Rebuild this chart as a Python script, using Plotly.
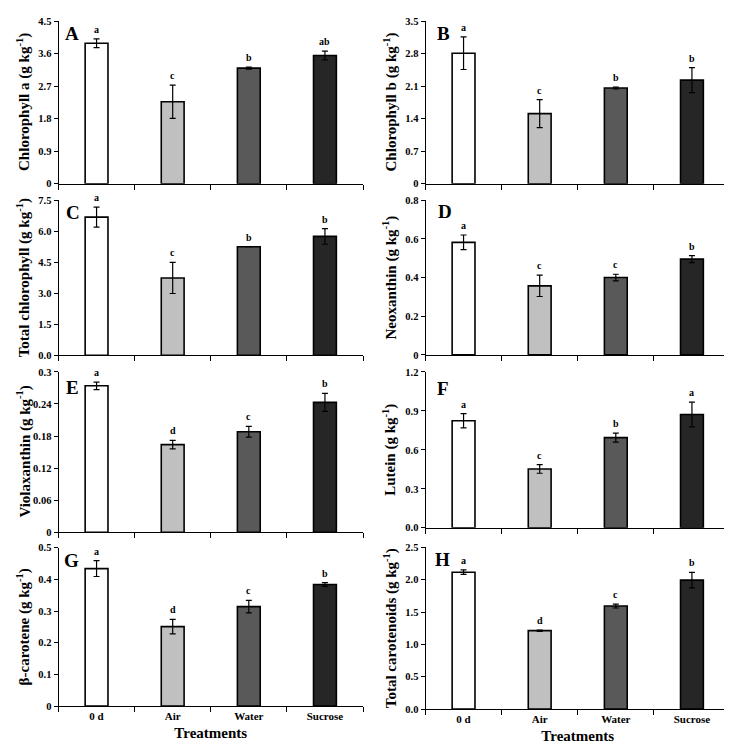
import plotly.graph_objects as go

W, H = 732, 745

categories = ["0 d", "Air", "Water", "Sucrose"]
bar_colors = ["#ffffff", "#c0c0c0", "#595959", "#262626"]

chl_a = [3.89, 2.27, 3.20, 3.55]
chl_a_err = [0.12, 0.46, 0.03, 0.12]
chl_a_sig = ["a", "c", "b", "ab"]
chl_a_ticks = [0, 0.9, 1.8, 2.7, 3.6, 4.5]
chl_a_ticktext = ["0", "0.9", "1.8", "2.7", "3.6", "4.5"]

chl_b = [2.81, 1.51, 2.06, 2.23]
chl_b_err = [0.35, 0.30, 0.02, 0.27]
chl_b_sig = ["a", "c", "b", "b"]
chl_b_ticks = [0, 0.7, 1.4, 2.1, 2.8, 3.5]
chl_b_ticktext = ["0", "0.7", "1.4", "2.1", "2.8", "3.5"]

tot_chl = [6.68, 3.74, 5.25, 5.75]
tot_chl_err = [0.48, 0.75, 0.0, 0.38]
tot_chl_sig = ["a", "c", "b", "b"]
tot_chl_ticks = [0, 1.5, 3.0, 4.5, 6.0, 7.5]
tot_chl_ticktext = ["0.0", "1.5", "3.0", "4.5", "6.0", "7.5"]

neox = [0.582, 0.357, 0.400, 0.495]
neox_err = [0.038, 0.055, 0.017, 0.018]
neox_sig = ["a", "c", "c", "b"]
neox_ticks = [0, 0.2, 0.4, 0.6, 0.8]
neox_ticktext = ["0", "0.2", "0.4", "0.6", "0.8"]

viol = [0.274, 0.164, 0.188, 0.243]
viol_err = [0.007, 0.008, 0.010, 0.017]
viol_sig = ["a", "d", "c", "b"]
viol_ticks = [0, 0.06, 0.12, 0.18, 0.24, 0.3]
viol_ticktext = ["0", "0.06", "0.12", "0.18", "0.24", "0.3"]

lutein = [0.824, 0.453, 0.694, 0.872]
lutein_err = [0.055, 0.033, 0.035, 0.095]
lutein_sig = ["a", "c", "b", "a"]
lutein_ticks = [0, 0.3, 0.6, 0.9, 1.2]
lutein_ticktext = ["0.0", "0.3", "0.6", "0.9", "1.2"]

bcar = [0.434, 0.251, 0.314, 0.384]
bcar_err = [0.025, 0.023, 0.020, 0.006]
bcar_sig = ["a", "d", "c", "b"]
bcar_ticks = [0, 0.1, 0.2, 0.3, 0.4, 0.5]
bcar_ticktext = ["0", "0.1", "0.2", "0.3", "0.4", "0.5"]

tot_car = [2.115, 1.212, 1.592, 1.993]
tot_car_err = [0.035, 0.010, 0.030, 0.120]
tot_car_sig = ["a", "d", "c", "b"]
tot_car_ticks = [0, 0.5, 1.0, 1.5, 2.0, 2.5]
tot_car_ticktext = ["0.0", "0.5", "1.0", "1.5", "2.0", "2.5"]

FONT = "Liberation Serif, Times New Roman, serif"

# panel: letter, title, values, err, sig, ticks, ticktext, x-domain px, y-domain px, letter pos px
panels = [
    ("A", "Chlorophyll a (g kg<sup>-1</sup>)", chl_a, chl_a_err, chl_a_sig, chl_a_ticks, chl_a_ticktext,
     (50.5, 355), (8.3, 173.3), (64, 21)),
    ("B", "Chlorophyll b (g kg<sup>-1</sup>)", chl_b, chl_b_err, chl_b_sig, chl_b_ticks, chl_b_ticktext,
     (417.5, 722), (8.3, 173.3), (435, 21)),
    ("C", "Total chlorophyll (g kg<sup>-1</sup>)", tot_chl, tot_chl_err, tot_chl_sig, tot_chl_ticks, tot_chl_ticktext,
     (50.5, 355), (190, 347.5), (65, 202)),
    ("D", "Neoxanthin (g kg<sup>-1</sup>)", neox, neox_err, neox_sig, neox_ticks, neox_ticktext,
     (417.5, 722), (190, 347), (437, 201)),
    ("E", "Violaxanthin (g kg<sup>-1</sup>)", viol, viol_err, viol_sig, viol_ticks, viol_ticktext,
     (50.5, 355), (364.3, 527), (64, 380)),
    ("F", "Lutein (g kg<sup>-1</sup>)", lutein, lutein_err, lutein_sig, lutein_ticks, lutein_ticktext,
     (417.5, 722), (364.3, 522.5), (435, 381)),
    ("G", "β-carotene (g kg<sup>-1</sup>)", bcar, bcar_err, bcar_sig, bcar_ticks, bcar_ticktext,
     (50.5, 355), (542.7, 703.5), (63, 556)),
    ("H", "Total carotenoids (g kg<sup>-1</sup>)", tot_car, tot_car_err, tot_car_sig, tot_car_ticks, tot_car_ticktext,
     (417.5, 722), (542.3, 706.5), (434, 555)),
]

fig = go.Figure()
layout = dict(
    width=W, height=H,
    margin=dict(l=0, r=0, t=0, b=0),
    paper_bgcolor="white", plot_bgcolor="white",
    showlegend=False,
    font=dict(family=FONT, color="black"),
    bargap=0.7,
)
annotations = []

for i, (letter, title, vals, errs, sigs, ticks, ticktext, xd, yd, lp) in enumerate(panels):
    n = i + 1
    xa = "x" if n == 1 else f"x{n}"
    ya = "y" if n == 1 else f"y{n}"
    xkey = "xaxis" if n == 1 else f"xaxis{n}"
    ykey = "yaxis" if n == 1 else f"yaxis{n}"
    fig.add_trace(go.Bar(
        x=categories, y=vals,
        marker=dict(color=bar_colors, line=dict(color="black", width=1.6)),
        error_y=dict(type="data", array=errs, color="black", thickness=1.2, width=3, visible=True),
        xaxis=xa, yaxis=ya, width=0.3,
    ))
    bottom = n in (7, 8)
    layout[xkey] = dict(
        domain=[xd[0] / W, xd[1] / W], anchor=ya,
        type="category", range=[-0.5, 3.5],
        showline=True, linecolor="black", linewidth=1,
        ticks="outside", tickson="boundaries", ticklen=5, tickcolor="black", tickwidth=1,
        showticklabels=bottom, showgrid=False, zeroline=False,
        tickfont=dict(family=FONT, size=11, color="black", weight="bold"),
    )
    if bottom:
        layout[xkey]["title"] = dict(text="Treatments", standoff=6,
                                     font=dict(family=FONT, size=15, color="black", weight="bold"))
    layout[ykey] = dict(
        domain=[1 - yd[1] / H, 1 - yd[0] / H], anchor=xa,
        range=[0, ticks[-1]],
        tickvals=ticks, ticktext=ticktext,
        showline=True, linecolor="black", linewidth=1,
        ticks="outside", ticklen=4, tickcolor="black", tickwidth=1,
        showgrid=False, zeroline=False,
        tickfont=dict(family=FONT, size=10.5, color="black", weight="bold"),
    )
    # y-axis title as annotation
    tx = 15.5 if xd[0] < 100 else 382
    annotations.append(dict(
        text=title, textangle=-90, xref="paper", yref="paper",
        x=tx / W, y=1 - (yd[0] + yd[1]) / 2 / H, xanchor="center", yanchor="middle",
        showarrow=False, font=dict(family=FONT, size=15, color="black", weight="bold"),
    ))
    # panel letter
    annotations.append(dict(
        text=letter, xref="paper", yref="paper",
        x=lp[0] / W, y=1 - lp[1] / H, xanchor="center", yanchor="middle",
        showarrow=False, font=dict(family=FONT, size=19, color="black", weight="bold"),
    ))
    # significance letters
    for c, v, e, s in zip(categories, vals, errs, sigs):
        annotations.append(dict(
            text=s, xref=xa, yref=ya, x=c, y=v + e, xanchor="center", yanchor="bottom",
            yshift=2, showarrow=False,
            font=dict(family=FONT, size=10, color="black", weight="bold"),
        ))

layout["annotations"] = annotations
fig.update_layout(**layout)
fig.write_html("out.html")
